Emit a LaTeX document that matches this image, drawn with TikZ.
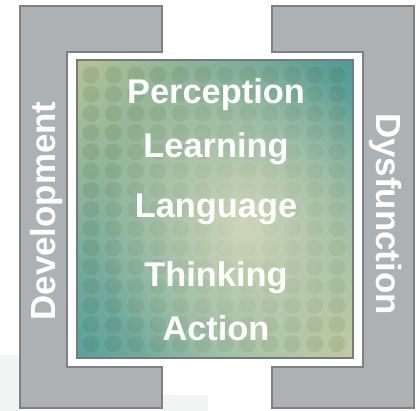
\documentclass[tikz,border=0pt]{standalone}
\usepackage{fontspec}
\setmainfont{Liberation Sans}
\usetikzlibrary{fadings,shadings}
\definecolor{bracketfill}{HTML}{ADB1B4}
\definecolor{bracketline}{HTML}{7D8184}
\definecolor{boxline}{HTML}{767A7C}
\definecolor{sagecol}{HTML}{B5C398}
\definecolor{sagelight}{HTML}{C4CCA2}
\definecolor{tealcol}{HTML}{4E9A98}
\definecolor{tealdark}{HTML}{57A09E}
\definecolor{glowcol}{HTML}{DCDDBE}
\definecolor{dotcol}{HTML}{3E5A2A}
\definecolor{tintcol}{HTML}{F0F5F3}
\tikzfading[name=glow, inner color=transparent!15, outer color=transparent!100]
\begin{document}
\begin{tikzpicture}[x=1bp,y=-1bp,
	bracket_box/.style={fill=bracketfill,draw=bracketline,line width=2.5bp},
	word_node/.style={text=white,font=\fontsize{34.5}{40}\selectfont\bfseries,anchor=base,inner sep=0pt},
	side_node/.style={text=white,font=\fontsize{35}{40}\selectfont\bfseries,anchor=base,inner sep=0pt}]
		
		\useasboundingbox (0,0) rectangle (419,411);
		\fill[tintcol] (0,355) rectangle (20,411);
		\fill[tintcol] (162,395) rectangle (208,411);
		
		% side brackets
		\draw[bracket_box] (20,6) -- (162,6) -- (162,52) -- (67,52) -- (67,367) -- (162,367) -- (162,408) -- (20,408) -- cycle;
		\draw[bracket_box] (272,6) -- (414,6) -- (414,408) -- (272,408) -- (272,367) -- (363,367) -- (363,52) -- (272,52) -- cycle;
		
		% central square
		\shade[upper left=sagecol,upper right=tealcol,lower left=tealdark,lower right=sagelight] (77,60) rectangle (353,358);
		\begin{scope}
		\clip (77,60) rectangle (353,358);
		\foreach \i in {0,...,11}
			\foreach \j in {0,...,14}
				\fill[dotcol,opacity=0.13] (91+\i*22.36,75+\j*19.2) circle (8.5);
		\fill[glowcol,path fading=glow] (245,225) ellipse (150 and 175);
		\end{scope}
		\draw[draw=boxline,line width=2.5bp] (77,60) rectangle (353,358);
		
		\node[word_node] (perception) at (216,103) {Perception};
		\node[word_node] (learning) at (216,157) {Learning};
		\node[word_node] (language) at (216,217) {Language};
		\node[word_node] (thinking) at (216,286) {Thinking};
		\node[word_node] (action) at (216,340) {Action};
		
		\node[side_node,rotate=90] (development) at (55,211) {Development};
		\node[side_node,rotate=-90] (dysfunction) at (376,214) {Dysfunction};
		\end{tikzpicture}
\end{document}
